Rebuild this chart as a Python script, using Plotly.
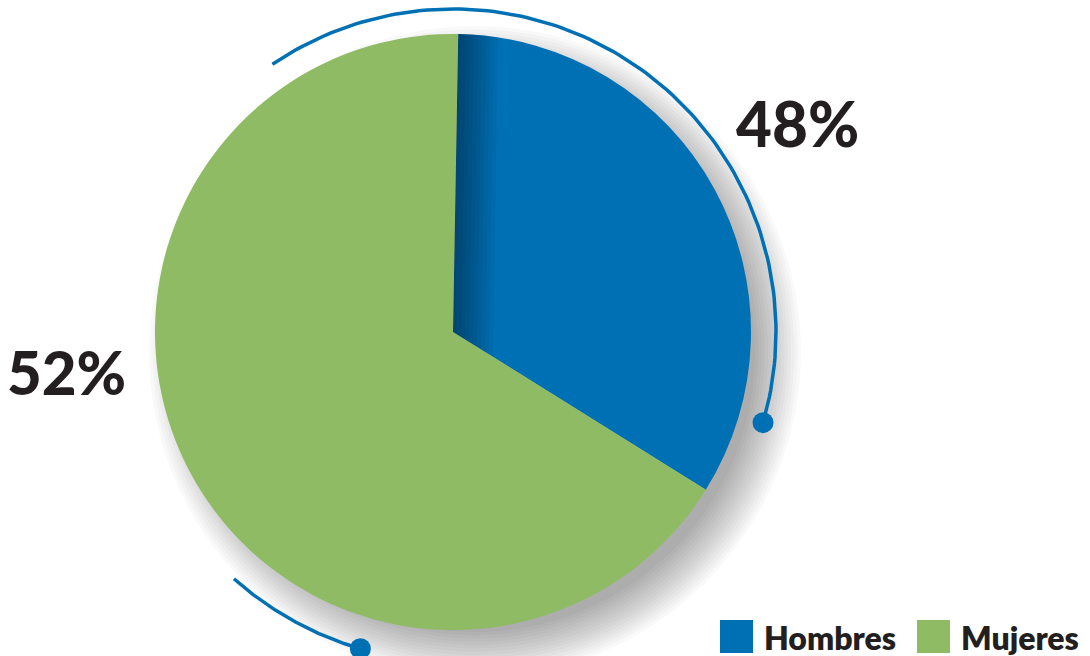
import numpy as np
import plotly.graph_objects as go

# data
labels = ["Hombres", "Mujeres"]
slice_shares = [33.6, 66.4]          # shares as drawn in the picture
pct_labels = ["48%", "52%"]
colors = ["#0070b4", "#8fbb64"]

W, H = 1090, 656
CX, CY, R = 453, 332, 298
START_DEG = 1.0
TEXT = "#231f20"
FONT = "Lato"


def polar(r, deg, cx=CX, cy=CY):
    a = np.radians(deg)
    return cx + r * np.sin(a), cy - r * np.cos(a)


fig = go.Figure()

# pie itself
fig.add_trace(
    go.Pie(
        labels=labels,
        values=slice_shares,
        marker={"colors": colors, "line": {"width": 0}},
        sort=False,
        direction="clockwise",
        rotation=START_DEG,
        textinfo="none",
        hoverinfo="label",
        showlegend=False,
        domain={
            "x": [(CX - R) / W, (CX + R) / W],
            "y": [1 - (CY + R) / H, 1 - (CY - R) / H],
        },
    )
)

# decorative arcs with end dots
arcs = [(323, -34, 106.3), (330, 221.6, 196.3)]
for r, a0, a1 in arcs:
    ang = np.linspace(a0, a1, 120)
    xs, ys = polar(r, ang)
    fig.add_trace(
        go.Scatter(x=xs, y=ys, mode="lines", line={"color": "#0070b4", "width": 3.5},
                   hoverinfo="skip", showlegend=False)
    )
    dx, dy = polar(r, a1)
    fig.add_trace(
        go.Scatter(x=[dx], y=[dy], mode="markers", marker={"color": "#0070b4", "size": 21},
                   hoverinfo="skip", showlegend=False)
    )

shapes = []

# soft drop shadow, pushed to the lower right
scx, scy = CX + 22, CY + 20
for r in np.linspace(280, 326, 15):
    shapes.append(dict(type="circle", xref="x", yref="y", layer="below",
                       x0=scx - r, x1=scx + r, y0=scy - r, y1=scy + r,
                       fillcolor="rgba(0,0,0,0.022)", line={"width": 0}))

# dark shading along the top edge of the blue slice
end_deg = START_DEG + 360 * slice_shares[0] / sum(slice_shares)
tx, ty = polar(R, START_DEG)
ex, ey = polar(1.0, end_deg)
slope = (ey - CY) / (ex - CX)
for w in np.linspace(4, 40, 10):
    a_top = np.degrees(np.arcsin(min((tx - CX + w) / R, 1)))
    arc_ang = np.linspace(START_DEG, a_top, 12)
    ax_, ay_ = polar(R, arc_ang)
    pts = [(CX, CY)] + list(zip(ax_, ay_)) + [(CX + w, CY + w * slope)]
    path = "M " + " L ".join(f"{x:.2f},{y:.2f}" for x, y in pts) + " Z"
    shapes.append(dict(type="path", xref="x", yref="y", layer="above", path=path,
                       fillcolor="rgba(0,0,0,0.038)", line={"width": 0}))

# legend squares
legend_x = [720, 917]
for x0, c in zip(legend_x, colors):
    shapes.append(dict(type="rect", xref="x", yref="y", x0=x0, x1=x0 + 33, y0=620, y1=653,
                       fillcolor=c, line={"width": 0}))

annotations = [
    dict(x=797, y=123, text=pct_labels[0], showarrow=False, xref="x", yref="y",
         font={"family": FONT, "size": 62, "color": TEXT, "weight": 900}),
    dict(x=66, y=372, text=pct_labels[1], showarrow=False, xref="x", yref="y",
         font={"family": FONT, "size": 60, "color": TEXT, "weight": 900}),
]
for x0, lab in zip(legend_x, labels):
    annotations.append(
        dict(x=x0 + 42, y=637, text=lab, showarrow=False, xref="x", yref="y", xanchor="left",
             font={"family": FONT, "size": 32, "color": TEXT, "weight": 800})
    )

fig.update_layout(
    width=W,
    height=H,
    margin={"l": 0, "r": 0, "t": 0, "b": 0},
    paper_bgcolor="white",
    plot_bgcolor="white",
    showlegend=False,
    shapes=shapes,
    annotations=annotations,
    xaxis={"range": [0, W], "visible": False, "fixedrange": True},
    yaxis={"range": [H, 0], "visible": False, "fixedrange": True},
)

# drop the page's default body margin so the figure sits at the window corner
fig.write_html(
    "out.html",
    config={"displayModeBar": False},
    post_script="document.body.style.margin='0';document.body.style.overflow='hidden';",
)
